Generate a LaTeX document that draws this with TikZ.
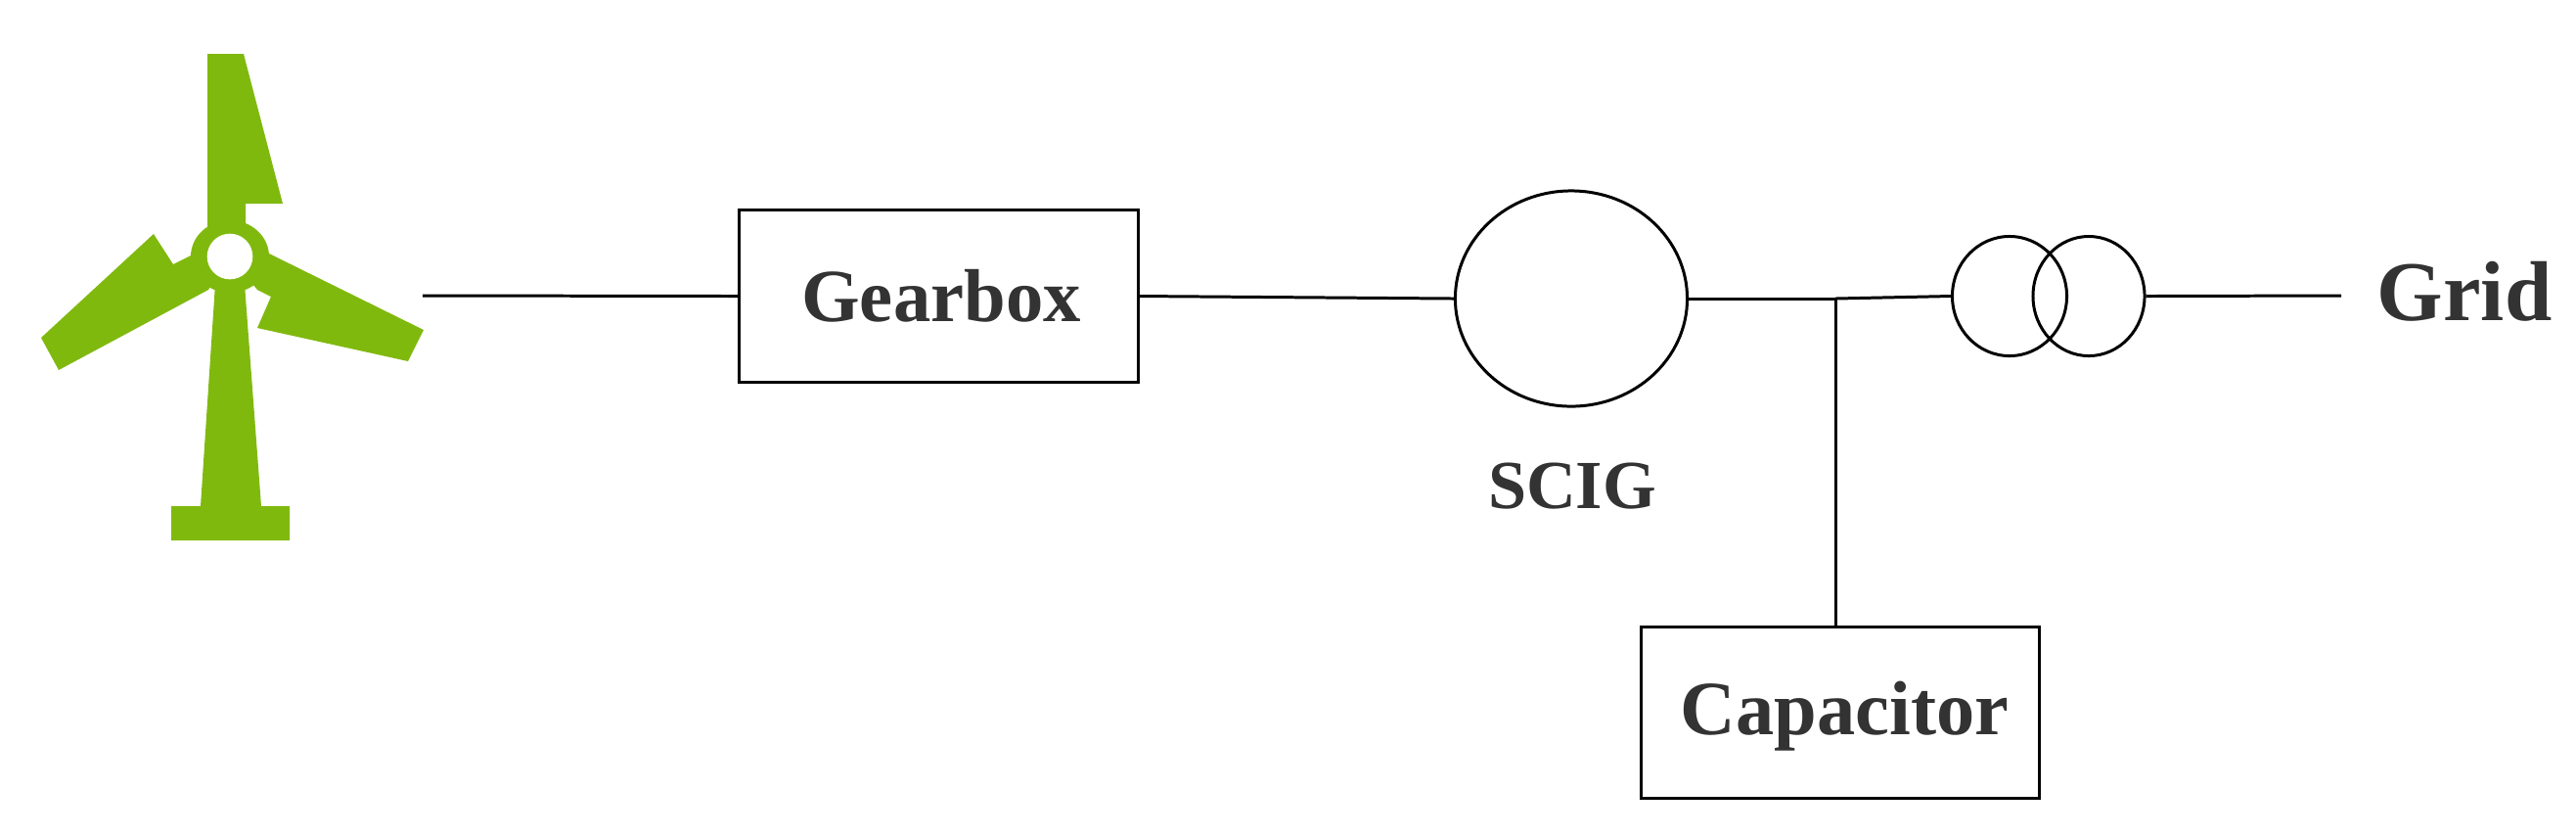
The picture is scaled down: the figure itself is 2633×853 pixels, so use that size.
\documentclass[tikz,border=0pt]{standalone}
\usepackage{xcolor}
\usepackage{fontspec}
\setmainfont{Liberation Serif}
\usepackage{tikz}
\usetikzlibrary{shapes}
\definecolor{bladegreen}{RGB}{128,185,14}
\definecolor{labelgray}{RGB}{51,51,51}

\begin{document}
\begin{tikzpicture}[x=0.01cm,y=-0.01cm,
  block/.style={draw,line width=.85pt,minimum width=4.07cm,minimum height=1.75cm,inner sep=0pt},
  machine/.style={draw,line width=.85pt,shape=ellipse,inner sep=0pt},
  label/.style={text=labelgray,anchor=base,inner sep=0pt},
  link/.style={line width=.85pt},
  turbine/.style={fill=bladegreen,draw=none}]

    \useasboundingbox (0,0) rectangle (2633,853);

    % wind turbine
    \fill[turbine] (212,55) -- (249,55) -- (289,208) -- (251,208) -- (251,230) -- (235,262) -- (212,232) -- cycle;
    \fill[turbine] (213,296) -- (60,378) -- (42,345) -- (157,239) -- (177,270) -- (197,260) -- (235,262) -- cycle;
    \fill[turbine] (273,258) -- (433,337) -- (417,369) -- (263,335) -- (277,303) -- (263,296) -- (235,262) -- cycle;
    \fill[turbine] (220,290) -- (250,290) -- (267,517) -- (296,517) -- (296,552) -- (175,552) -- (175,517) -- (205,517) -- cycle;
    \fill[turbine] (235,262) ellipse [x radius=0.4cm,y radius=0.37cm];
    \fill[white] (235,262) circle [radius=0.233cm];

    \coordinate (hubend) at (432,302);
    \node[block](gearbox) at (959.5,302.5){};
    \node[label,font=\bfseries\fontsize{21.8}{21.8}\selectfont](gearboxtext) at (962,328){Gearbox};
    \node[machine,minimum width=2.37cm,minimum height=2.2cm](scig) at (1606,305){};
    \node[label,font=\bfseries\fontsize{20}{20}\selectfont](scigtext) at (1607,519){SCIG};
    \node[machine,minimum width=1.17cm,minimum height=1.22cm](primary) at (2054,302.5){};
    \node[machine,minimum width=1.14cm,minimum height=1.22cm](secondary) at (2135,302.5){};
    \coordinate (gridend) at (2393,302);
    \node[label,font=\bfseries\fontsize{24.7}{24.7}\selectfont](grid) at (2519,327){Grid};
    \node[block](capacitor) at (1881,728){};
    \node[label,font=\bfseries\fontsize{22.3}{22.3}\selectfont](capacitortext) at (1885.5,750){Capacitor};
    \coordinate (junction) at (1876,305);

    \draw[link](hubend) -- (gearbox.west);
    \draw[link](gearbox.east) -- (scig.west);
    \draw[link](scig.east) -- (junction);
    \draw[link](junction) -- (primary.west);
    \draw[link](secondary.east) -- (gridend);
    \draw[link](junction) -- (junction |- capacitor.north);
\end{tikzpicture}
\end{document}
